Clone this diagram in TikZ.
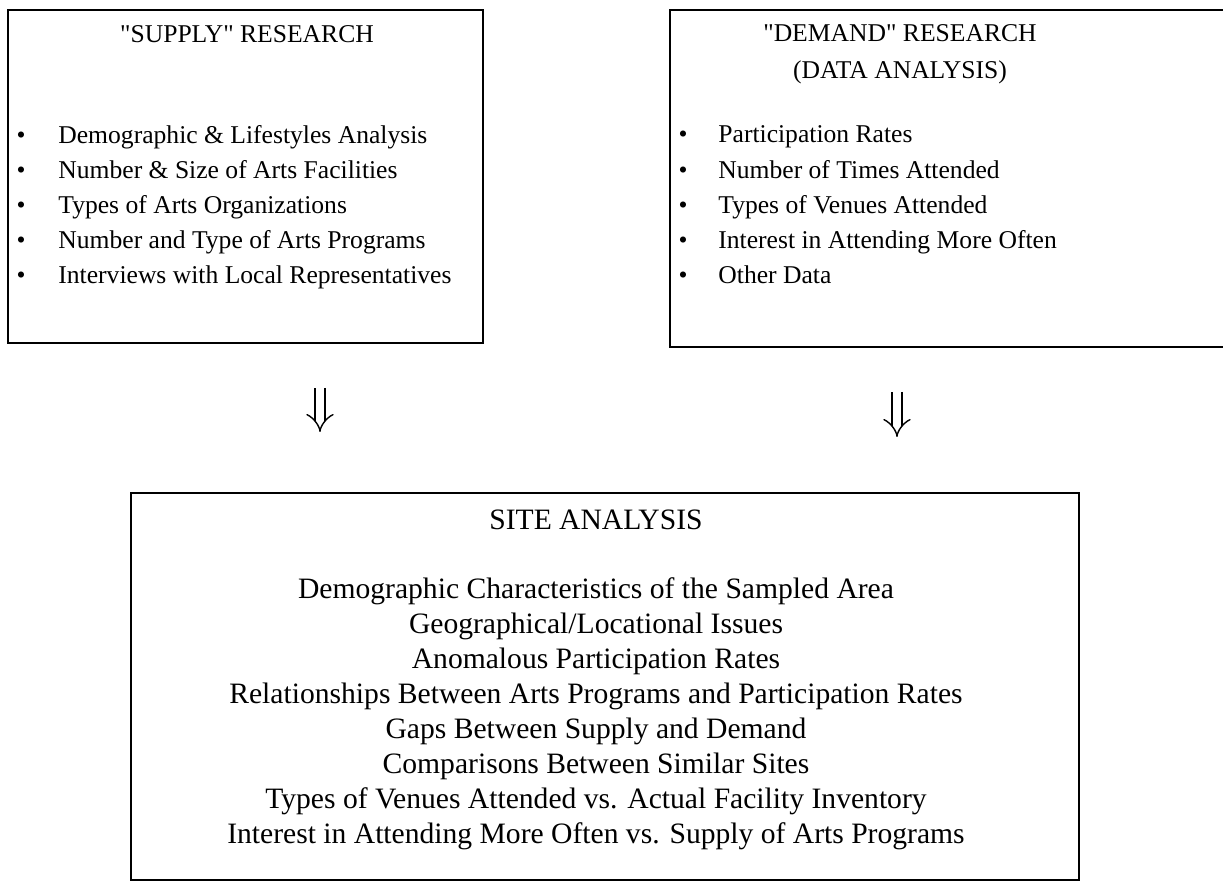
\documentclass[tikz,border=0pt]{standalone}
\usepackage{fontspec}
\setmainfont{Liberation Serif}
\usetikzlibrary{arrows.meta}
\begin{document}
\begin{tikzpicture}[x=0.5pt,y=-0.5pt,
  box/.style={draw, line width=1.1pt, inner sep=0pt},
  txt/.style={font=\fontsize{12.8pt}{15pt}\selectfont, inner sep=0pt, anchor=base west},
  bul/.style={font=\fontsize{12.8pt}{15pt}\selectfont, inner sep=0pt, anchor=base},
  ttl/.style={font=\fontsize{12.8pt}{15pt}\selectfont, inner sep=0pt},
  stxt/.style={font=\fontsize{14.8pt}{17pt}\selectfont, inner sep=0pt},
  dbl/.style={double, double distance=4.2pt, line width=0.7pt, -{Implies}}]
\useasboundingbox (0,0) rectangle (1223,882);

% boxes
\node (supply) [box, minimum width=237.5pt, minimum height=166.5pt] at (245.5,176.5) {};
\node (demand) [box, minimum width=282.5pt, minimum height=168.5pt] at (952.5,178.5) {};
\node (site) [box, minimum width=474pt, minimum height=193.5pt] at (605,686.5) {};

% supply
\node (st) [ttl] at (247,34) {\textquotedbl SUPPLY\textquotedbl{} RESEARCH};
\foreach \y/\t [count=\i] in {144/Demographic \& Lifestyles Analysis,
  179/Number \& Size of Arts Facilities,
  214/Types of Arts Organizations,
  249/Number and Type of Arts Programs,
  284/Interviews with Local Representatives}{
  \node (sb\i) [bul] at (21,\y) {\textbullet};
  \node (si\i) [txt] at (58,\y) {\t};
}

% demand
\node (dt1) [ttl] at (900,33) {\textquotedbl DEMAND\textquotedbl{} RESEARCH};
\node (dt2) [ttl] at (900,72) {(DATA ANALYSIS)};
\foreach \y/\t [count=\i] in {143/Participation Rates,
  179/Number of Times Attended,
  214/Types of Venues Attended,
  249/Interest in Attending More Often,
  284/Other Data}{
  \node (db\i) [bul] at (683,\y) {\textbullet};
  \node (di\i) [txt] at (718,\y) {\t};
}

% site
\node (sit) [stxt] at (596,520) {SITE ANALYSIS};
\foreach \y/\t [count=\i] in {591/Demographic Characteristics of the Sampled Area,
  626/{Geographical/Locational Issues},
  661/Anomalous Participation Rates,
  696/Relationships Between Arts Programs and Participation Rates,
  731/Gaps Between Supply and Demand,
  766/Comparisons Between Similar Sites,
  801/Types of Venues Attended vs. Actual Facility Inventory,
  836/Interest in Attending More Often vs. Supply of Arts Programs}{
  \node (sl\i) [stxt] at (596,\y) {\t};
}

% arrows
\coordinate (a1s) at (320,388);
\coordinate (a1e) at (320,432);
\coordinate (a2s) at (897,392);
\coordinate (a2e) at (897,437);
\draw[dbl] (a1s) -- (a1e);
\draw[dbl] (a2s) -- (a2e);
\end{tikzpicture}
\end{document}
